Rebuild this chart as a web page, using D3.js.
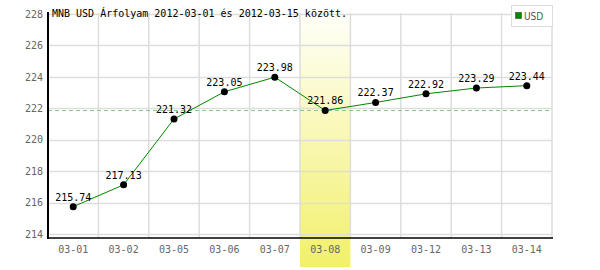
<!DOCTYPE html>
<html><head><meta charset="utf-8">
<script src="https://cdn.jsdelivr.net/npm/d3@7"></script>
<style>body{margin:0;background:#fff}svg{display:block}</style>
</head><body>
<svg id="c" width="600" height="270"></svg>
<script>
const categories = ["03-01","03-02","03-05","03-06","03-07","03-08","03-09","03-12","03-13","03-14"];
const values = [215.74,217.13,221.32,223.05,223.98,221.86,222.37,222.92,223.29,223.44];
const yTicks = [214,216,218,220,222,224,226,228];
const highlightCat = "03-08";
const refValue = 221.86;
const title = "MNB USD Árfolyam 2012-03-01 és 2012-03-15 között.";
const seriesName = "USD";

const svg = d3.select("#c");
const L = 48, R = 552, T = 13, B = 238;
const x = d3.scaleBand().domain(categories).range([L, R]);
const y = d3.scaleLinear().domain([214, 228]).range([234, 14]);
const mono = "'DejaVu Sans Mono', monospace";

const defs = svg.append("defs");
const g = defs.append("linearGradient").attr("id","hl").attr("x1",0).attr("y1",0).attr("x2",0).attr("y2",1);
g.append("stop").attr("offset","0%").attr("stop-color","#fffffa");
g.append("stop").attr("offset","100%").attr("stop-color","#f2f06a");

// highlight band
svg.append("rect").attr("x", x(highlightCat)).attr("y", T).attr("width", x.bandwidth()).attr("height", 267 - T).attr("fill","url(#hl)");

// horizontal grid
svg.append("g").selectAll("line").data(yTicks).join("line")
  .attr("x1", L).attr("x2", R).attr("y1", d => Math.round(y(d)) + 0.5).attr("y2", d => Math.round(y(d)) + 0.5)
  .attr("stroke", "#dddddd").attr("stroke-width", 1.5);
// vertical grid
svg.append("g").selectAll("line").data(categories).join("line")
  .attr("x1", d => x(d) + x.bandwidth()).attr("x2", d => x(d) + x.bandwidth())
  .attr("y1", T).attr("y2", B)
  .attr("stroke", "#dddddd").attr("stroke-width", 1.5);

// reference dashed line
svg.append("line").attr("x1", L).attr("x2", R).attr("y1", y(refValue)).attr("y2", y(refValue))
  .attr("stroke", "#88cc88").attr("stroke-dasharray", "4,3").attr("stroke-width", 1);

// axes
const yAxis = d3.axisLeft(y).tickValues(yTicks).tickSize(0).tickPadding(5).tickFormat(d3.format("d"));
const ya = svg.append("g").attr("transform", `translate(${L},0)`).call(yAxis);
ya.select(".domain").remove();
ya.selectAll("text").attr("font-family", mono).attr("font-size", 10).attr("fill", "#666");
const xAxis = d3.axisBottom(x).tickSize(0).tickPadding(8);
const xa = svg.append("g").attr("transform", `translate(0,${B})`).call(xAxis);
xa.select(".domain").remove();
xa.selectAll("text").attr("font-family", mono).attr("font-size", 10).attr("fill", "#666");

svg.append("line").attr("x1", L).attr("x2", L).attr("y1", T - 1).attr("y2", B + 1).attr("stroke", "#000").attr("stroke-width", 2);
svg.append("line").attr("x1", L).attr("x2", R + 1).attr("y1", B).attr("y2", B).attr("stroke", "#000").attr("stroke-width", 1.5);

// line
const cx = d => x(d) + x.bandwidth() / 2;
svg.append("path").datum(values)
  .attr("d", d3.line().x((d, i) => cx(categories[i])).y(d => y(d)))
  .attr("fill", "none").attr("stroke", "#008800").attr("stroke-width", 1);
svg.append("g").selectAll("circle").data(values).join("circle")
  .attr("cx", (d, i) => cx(categories[i])).attr("cy", d => y(d)).attr("r", 3.5).attr("fill", "#000");
svg.append("g").selectAll("text").data(values).join("text")
  .attr("x", (d, i) => cx(categories[i])).attr("y", d => y(d) - 6)
  .attr("text-anchor", "middle").attr("font-family", mono).attr("font-size", 10).attr("fill", "#000")
  .text(d => d.toFixed(2));

// title
svg.append("text").attr("x", 52).attr("y", 17).attr("font-family", mono).attr("font-size", 10).attr("fill", "#000").text(title);

// legend
svg.append("rect").attr("x", 511.5).attr("y", 5.5).attr("width", 41).attr("height", 21).attr("fill", "#fff").attr("stroke", "#ddd");
svg.append("rect").attr("x", 515.5).attr("y", 12.5).attr("width", 6).attr("height", 6).attr("fill", "#008800").attr("stroke", "#444").attr("stroke-width", 0.6);
svg.append("text").attr("x", 524).attr("y", 20).attr("font-family", "'DejaVu Sans Condensed', 'DejaVu Sans', sans-serif").attr("font-size", 10).attr("fill", "#555").text(seriesName);
</script>
</body></html>
